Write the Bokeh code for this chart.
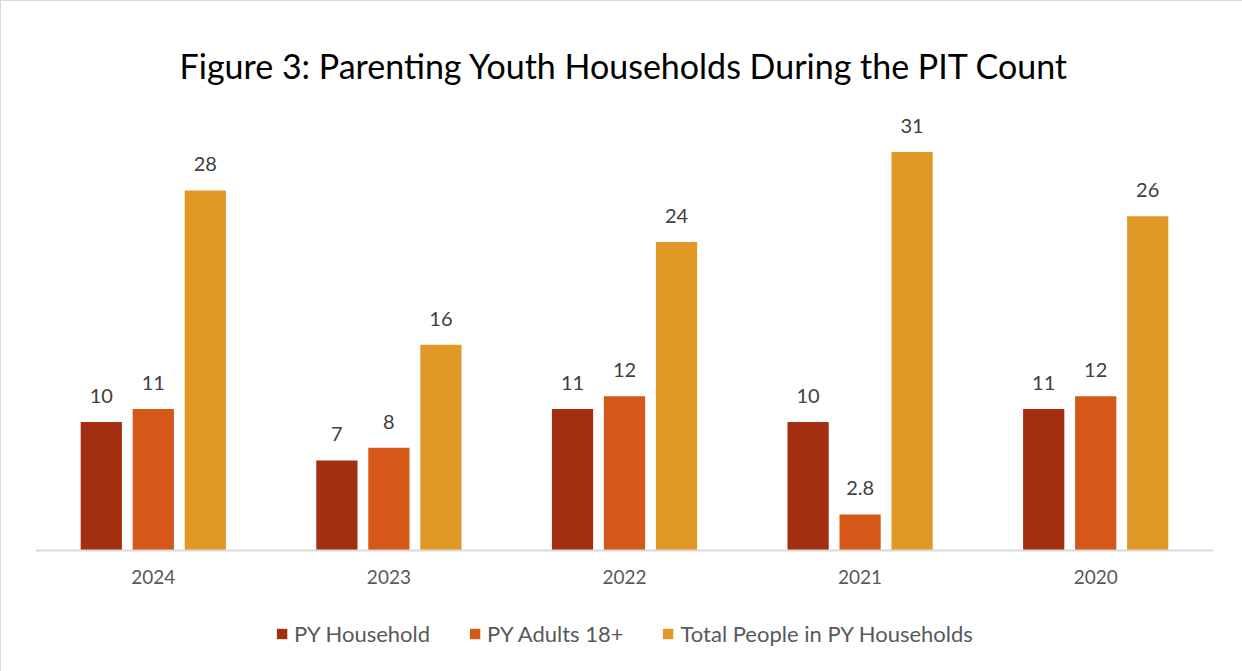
from bokeh.plotting import figure
from bokeh.models import FactorRange, ColumnDataSource, Legend, LegendItem, Range1d
from bokeh.transform import dodge
from bokeh.core.properties import value
from bokeh.embed import file_html
from bokeh.resources import INLINE

years = ["2024", "2023", "2022", "2021", "2020"]
py_household = [10, 7, 11, 10, 11]
py_adults = [11, 8, 12, 2.8, 12]
total_people = [28, 16, 24, 31, 26]
series_names = ["PY Household", "PY Adults 18+", "Total People in PY Households"]
colors = ["#A32E10", "#D65818", "#E09826"]

FONT = "Lato"

def fmt(v):
    return f"{v:g}"

src = ColumnDataSource(dict(
    year=years,
    hh=py_household, ad=py_adults, tot=total_people,
    hh_l=[fmt(v) for v in py_household],
    ad_l=[fmt(v) for v in py_adults],
    tot_l=[fmt(v) for v in total_people],
))

p = figure(frame_width=1178, frame_height=572,
           x_range=FactorRange(factors=years, range_padding=0),
           y_range=Range1d(-9.49, 35), output_backend="svg", toolbar_location=None,
           min_border_left=34, min_border_right=30, min_border_top=99, min_border_bottom=0,
           x_axis_location=None, y_axis_location=None)

p.title.text = "Figure 3: Parenting Youth Households During the PIT Count"
p.title.align = "center"
p.title.text_font = FONT
p.title.text_font_size = "34px"
p.title.text_font_style = "normal"
p.title.text_color = "#000000"
p.title.offset = 0
p.title.standoff = 30

step = 0.2207
bw = 0.175
renderers = []
for i, (col, lab) in enumerate([("hh", "hh_l"), ("ad", "ad_l"), ("tot", "tot_l")]):
    off = (i - 1) * step
    r = p.vbar(x=dodge("year", off, range=p.x_range), top=col, width=bw, source=src,
               fill_color=colors[i], line_color=None)
    renderers.append(r)
    p.text(x=dodge("year", off, range=p.x_range), y=col, text=lab, source=src,
           text_align="center", text_baseline="alphabetic", y_offset=-26,
           text_font=value(FONT), text_font_size="20px", text_color="#404040")

from bokeh.models import CategoricalAxis
xaxis = CategoricalAxis(fixed_location=0)
xaxis.axis_line_color = "#D9D9D9"
xaxis.axis_line_width = 2
xaxis.major_tick_line_color = None
xaxis.minor_tick_line_color = None
xaxis.major_tick_in = 0
xaxis.major_tick_out = 0
xaxis.major_label_text_font = FONT
xaxis.major_label_text_font_size = "19px"
xaxis.major_label_text_color = "#595959"
xaxis.major_label_standoff = 20
p.add_layout(xaxis, "below")

p.xgrid.visible = False
p.ygrid.visible = False
p.outline_line_color = None

legend = Legend(items=[LegendItem(label=series_names[i], renderers=[renderers[i]]) for i in range(3)],
                orientation="horizontal", location="bottom_center",
                label_text_font=FONT, label_text_font_size="22px", label_text_color="#595959",
                glyph_width=13, glyph_height=13, label_standoff=6, spacing=38,
                border_line_color=None, background_fill_alpha=0, margin=25, padding=0)
p.add_layout(legend, "center")

p.styles = {"border": "1px solid #D9D9D9", "box-sizing": "border-box"}

open("out.html", "w").write(file_html(p, INLINE))
